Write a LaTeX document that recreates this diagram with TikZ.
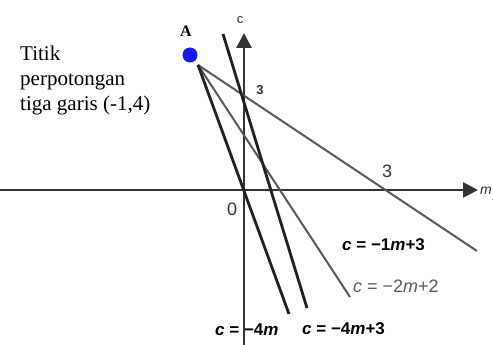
\documentclass[tikz,border=0pt]{standalone}
\usepackage{fontspec}
\setmainfont{Liberation Serif}
\newfontfamily\arialfont{Liberation Sans}
\usetikzlibrary{arrows.meta}
\definecolor{axisgray}{HTML}{333333}
\definecolor{linegray}{HTML}{585858}
\definecolor{linedark}{HTML}{202020}
\definecolor{dotblue}{HTML}{1818E8}

\begin{document}
\begin{tikzpicture}[
        x=1pt, y=-1pt,
        >={Triangle[length=15pt, width=15pt]},
        axis/.style={draw=axisgray, line width=2.6pt},
        thinline/.style={draw=linegray, line width=2pt},
        thickline/.style={draw=linedark, line width=2.8pt},
        lbl/.style={anchor=base west, inner sep=0pt},
        boldlbl/.style={lbl, font=\arialfont\bfseries\fontsize{17}{20}\selectfont},
        numlbl/.style={lbl, text=axisgray, font=\arialfont\fontsize{18}{20}\selectfont},
    ]
    \useasboundingbox (0,0) rectangle (493,345);
    \clip (0,0) rectangle (493,345);

    % Nodes
    \node[anchor=north west, inner sep=0pt, align=left, font=\fontsize{21}{25}\selectfont] (note) at (20,46) {Titik\\perpotongan\\tiga garis (-1,4)};
    \node[circle, fill=dotblue, inner sep=0pt, minimum size=15pt] (pA) at (190,55) {};
    \node[anchor=base, inner sep=0pt, font=\bfseries\fontsize{16}{18}\selectfont] (nameA) at (186,37) {A};

    \coordinate (O) at (244,190);
    \coordinate (cbot) at (244,345);
    \coordinate (ctop) at (244,33);
    \coordinate (mleft) at (0,190);
    \coordinate (mright) at (478,190);

    \coordinate (start) at (198,65);
    \coordinate (endA) at (477,251);
    \coordinate (endB) at (350,297);
    \coordinate (endC) at (289,314);
    \coordinate (startD) at (223,34);
    \coordinate (endD) at (307,308);

    \node[anchor=base, inner sep=0pt, text=axisgray, font=\arialfont\fontsize{13}{15}\selectfont] (clabel) at (240,24) {c};
    \node[lbl, text=axisgray, font=\arialfont\fontsize{14}{16}\selectfont\itshape] (mlabel) at (480,194) {m};
    \node[anchor=base, inner sep=0pt, text=axisgray, font=\arialfont\bfseries\fontsize{13}{15}\selectfont] (cthree) at (260,95) {3};
    \node[numlbl] (mthree) at (382,177) {3};
    \node[numlbl] (zero) at (227,215) {0};

    \node[boldlbl] (eqA) at (342,250) {\textit{c} = −1\textit{m}+3};
    \node[lbl, text=linegray, font=\arialfont\fontsize{18}{20}\selectfont] (eqB) at (353,292) {\textit{c} = −2\textit{m}+2};
    \node[boldlbl] (eqC) at (215,335) {\textit{c} = −4\textit{m}};
    \node[boldlbl] (eqD) at (302,334) {\textit{c} = −4\textit{m}+3};

    % Axes
    \draw[axis, ->] (mleft) -- (mright);
    \draw[axis, ->] (cbot) -- (ctop);

    % Lines
    \draw[thinline] (start) -- (endA);
    \draw[thinline] (start) -- (endB);
    \draw[thickline] (start) -- (endC);
    \draw[thickline] (startD) -- (endD);

\end{tikzpicture}
\end{document}
